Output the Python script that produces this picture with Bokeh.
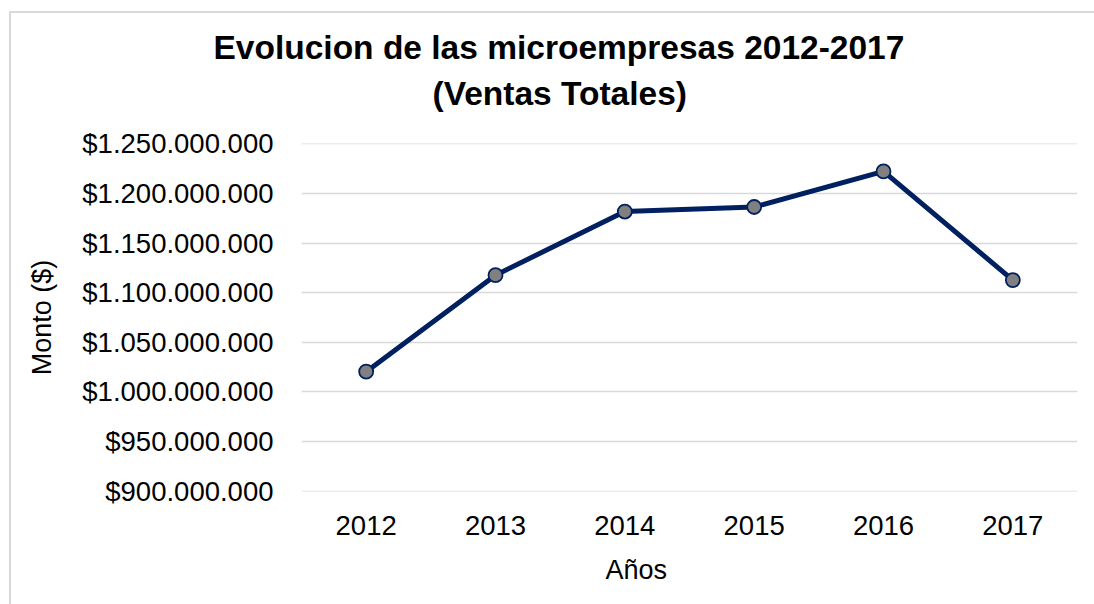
from bokeh.plotting import figure
from bokeh.models import FactorRange, Range1d, FixedTicker, Title
from bokeh.embed import file_html
from bokeh.resources import INLINE

# ---- data ----
years = ["2012", "2013", "2014", "2015", "2016", "2017"]
ventas = [1020400000, 1117700000, 1181800000, 1186400000, 1222300000, 1112700000]
y_ticks = [900000000, 950000000, 1000000000, 1050000000, 1100000000,
           1150000000, 1200000000, 1250000000]
y_tick_labels = ["$" + f"{t:,}".replace(",", ".") for t in y_ticks]

title_line1 = "Evolucion de las microempresas 2012-2017"
title_line2 = "(Ventas Totales)"
x_label = "Años"
y_label = "Monto ($)"

FONT = "Liberation Sans"

p = figure(
    x_range=FactorRange(*years, range_padding=0),
    y_range=Range1d(y_ticks[0] - 400000, y_ticks[-1] + 400000),
    width=1094, height=604,
    min_border_left=301, min_border_right=17,
    min_border_top=143, min_border_bottom=113,
    output_backend="svg", toolbar_location=None,
)
p.outline_line_color = None
p.background_fill_color = "white"
p.border_fill_color = None
p.styles = {
    "background": "linear-gradient(#d9d9d9,#d9d9d9) 9px 11px / 2px 100% no-repeat, "
                  "linear-gradient(#d9d9d9,#d9d9d9) 9px 11px / 100% 2px no-repeat, white",
}

# grid
p.xgrid.grid_line_color = None
p.ygrid.grid_line_color = "#d9d9d9"
p.ygrid.grid_line_width = 1.5

# y axis
p.yaxis.ticker = FixedTicker(ticks=y_ticks)
p.yaxis.major_label_overrides = {t: l for t, l in zip(y_ticks, y_tick_labels)}
p.yaxis.axis_line_color = None
p.yaxis.major_tick_line_color = None
p.yaxis.minor_tick_line_color = None
p.yaxis.major_tick_out = 0
p.yaxis.major_tick_in = 0
p.yaxis.major_label_standoff = 28
p.yaxis.major_label_text_font = FONT
p.yaxis.major_label_text_font_size = "27.5px"
p.yaxis.major_label_text_color = "#000000"
p.yaxis.axis_label = y_label
p.yaxis.axis_label_text_font = FONT
p.yaxis.axis_label_text_font_size = "27px"
p.yaxis.axis_label_text_font_style = "normal"
p.yaxis.axis_label_text_color = "#000000"
p.yaxis.axis_label_standoff = 22

# x axis
p.xaxis.axis_line_color = None
p.xaxis.major_tick_line_color = None
p.xaxis.minor_tick_line_color = None
p.xaxis.major_tick_out = 0
p.xaxis.major_tick_in = 0
p.xaxis.major_label_standoff = 24
p.xaxis.major_label_text_font = FONT
p.xaxis.major_label_text_font_size = "27.5px"
p.xaxis.major_label_text_color = "#000000"

# series
p.line(years, ventas, line_color="#002060", line_width=5)
p.scatter(years, ventas, size=14, fill_color="#808080",
          line_color="#002060", line_width=1.8)

# titles (first added = nearest the frame); a thin spacer first
p.add_layout(Title(text=" ", standoff=22, text_font=FONT, text_font_size="1px"),
             "above")
p.add_layout(Title(text=title_line2, align="left", offset=131, standoff=14,
                   text_font=FONT, text_font_size="33.5px", text_font_style="bold",
                   text_color="#000000"), "above")
p.add_layout(Title(text=title_line1, align="left", offset=-88, standoff=0,
                   text_font=FONT, text_font_size="33.5px", text_font_style="bold",
                   text_color="#000000"), "above")

# x axis label
p.add_layout(Title(text=x_label, align="left", offset=304, standoff=30,
                   text_font=FONT, text_font_size="27px", text_font_style="normal",
                   text_color="#000000"), "below")

open("out.html", "w").write(file_html(p, INLINE))
